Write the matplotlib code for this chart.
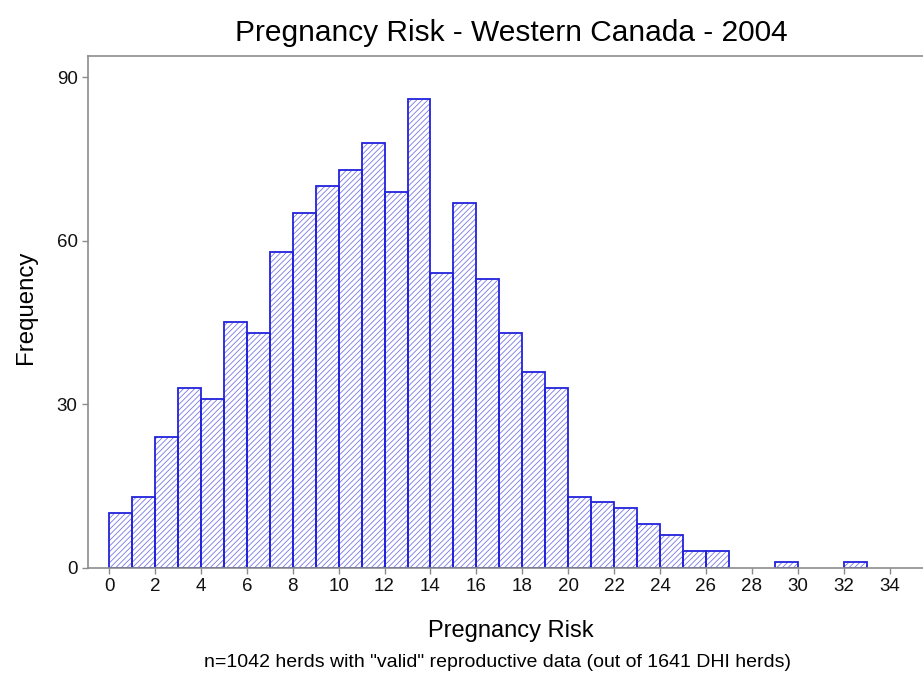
import numpy as np
import matplotlib
matplotlib.use("Agg")
from matplotlib import pyplot as plt

# bin edges (1 unit wide) and counts
bin_left = np.arange(0, 33)
counts = [10, 13, 24, 33, 31, 45, 43, 58, 65, 70, 73, 78, 69, 86, 54, 67, 53,
          43, 36, 33, 13, 12, 11, 8, 6, 3, 3, 0, 0, 1, 0, 0, 1]
xticks = list(range(0, 35, 2))
yticks = [0, 30, 60, 90]

plt.rcParams['font.family'] = ['Liberation Sans', 'DejaVu Sans']
plt.rcParams['hatch.linewidth'] = 0.6

W, H = 923, 673
fig = plt.figure(figsize=(W / 100, H / 100), dpi=100)
ax = fig.add_axes([88 / W, 1 - 567.7 / H, (932 - 88) / W, (567.7 - 56) / H])

mask = np.array(counts) > 0
lefts = bin_left[mask]
vals = np.array(counts)[mask]

# hatch layer (lighter blue) + outline layer (strong blue)
ax.bar(lefts, vals, width=1, align='edge', facecolor='white',
       edgecolor='#7878e4', hatch='//////', linewidth=0)
ax.bar(lefts, vals, width=1, align='edge', facecolor='none',
       edgecolor='#2222dd', linewidth=1.3)

ax.set_xlim(-0.92, 35.85)
ax.set_ylim(0, 93.9)
ax.set_xticks(xticks)
ax.set_yticks(yticks)

for s in ax.spines.values():
    s.set_color('#8c8c8c')
    s.set_linewidth(1.2)
ax.tick_params(colors='#8c8c8c', labelcolor='#111111', labelsize=13.5,
               length=4, width=1)

fig.text(511 / W, 1 - 41 / H, 'Pregnancy Risk - Western Canada - 2004',
         ha='center', va='baseline', fontsize=21.5)
fig.text(510.5 / W, 1 - 637.5 / H, 'Pregnancy Risk', ha='center',
         va='baseline', fontsize=17)
fig.text(26 / W, 1 - 307 / H, 'Frequency', ha='center', va='center',
         fontsize=17.3, rotation=90)
fig.text(497.5 / W, 1 - 667 / H,
         'n=1042 herds with "valid" reproductive data (out of 1641 DHI herds)',
         ha='center', va='baseline', fontsize=14)

fig.savefig('out.png', dpi=100)
